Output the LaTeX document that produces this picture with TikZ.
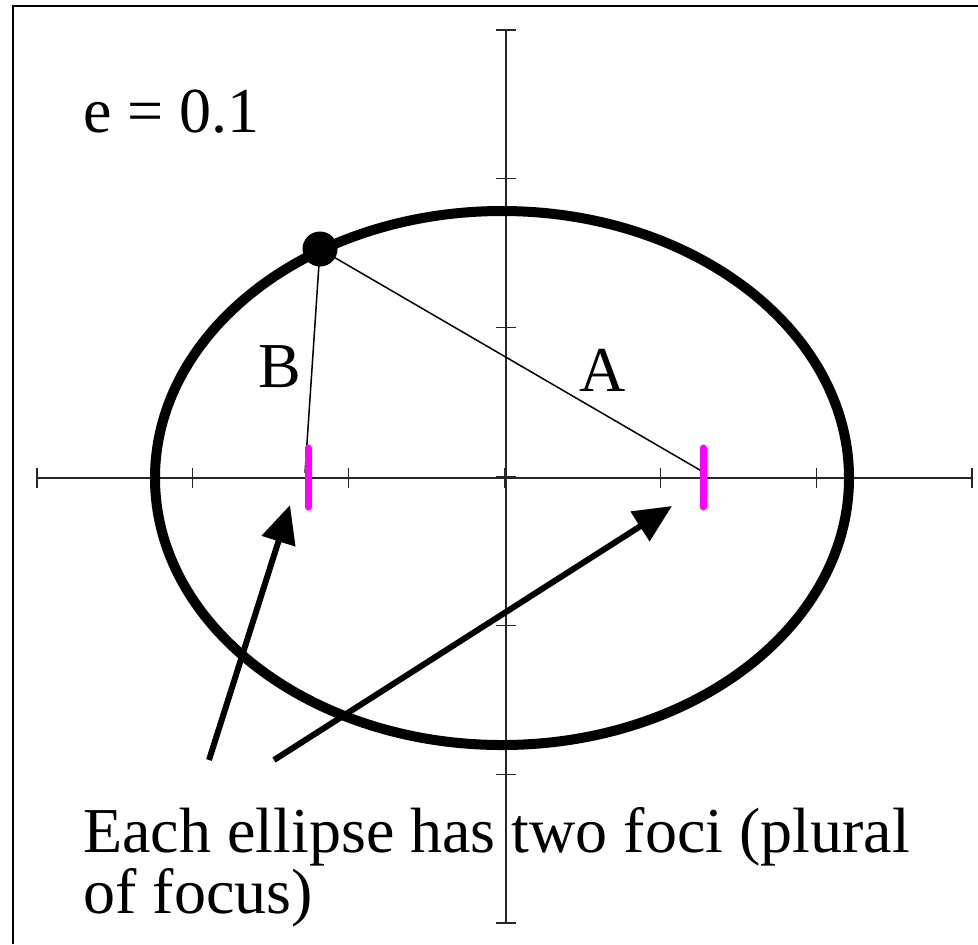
\documentclass[tikz,border=0pt]{standalone}
\usepackage{fontspec}
\setmainfont{Liberation Serif}
\usetikzlibrary{arrows.meta}
\definecolor{focuscol}{RGB}{255,0,255}

\begin{document}
\begin{tikzpicture}[x=0.5pt, y=-0.5pt, font=\fontsize{32}{32}\selectfont,
  axisline/.style={black!85, line width=0.65pt},
  focusmark/.style={focuscol, line width=3.5pt, line cap=round},
  pointer/.style={line width=3pt, -{Triangle[length=19pt, width=17pt]}},
  lbl/.style={inner sep=0pt}]

  \useasboundingbox (0,0) rectangle (978,944);
  \draw[line width=0.7pt] (13,944) -- (13,6) -- (978,6);

  % axes with ticks
  \draw[axisline] (37,478) -- (972,478);
  \draw[axisline] (506,30) -- (506,923);
  \foreach \k in {0,...,6} {
    \draw[axisline] ({37+155.83*\k},468) -- ({37+155.83*\k},488);
    \draw[axisline] (496,{30+148.83*\k}) -- (516,{30+148.83*\k});
  }

  % orbit
  \draw[line width=5pt] (502,478) ellipse [x radius=173.5pt, y radius=133.5pt];

  \coordinate (p) at (320,249);
  \coordinate (fB) at (305,473);
  \coordinate (fA) at (705,473);
  \draw[line width=0.75pt] (p) -- (fB);
  \draw[line width=0.75pt] (p) -- (fA);
  \node[circle, fill, inner sep=0pt, minimum size=17.5pt] (planet) at (p) {};

  \draw[focusmark] (308,448) -- (308,507);
  \draw[focusmark] (703,448) -- (703,507);

  \node[lbl] (labB) at (280,367) {B};
  \node[lbl] (labA) at (603,370) {A};
  \node[lbl, anchor=base west] (ecc) at (83,132) {e = 0.1};

  % arrows to the foci
  \coordinate (t1) at (209,760);
  \coordinate (h1) at (290,505);
  \coordinate (t2) at (274,760);
  \coordinate (h2) at (672,506);
  \draw[pointer] (t1) -- (h1);
  \draw[pointer] (t2) -- (h2);

  \node[lbl, anchor=base west] (cap1) at (83,852) {Each ellipse has two foci (plural};
  \node[lbl, anchor=base west] (cap2) at (83,913) {of focus)};

\end{tikzpicture}
\end{document}
